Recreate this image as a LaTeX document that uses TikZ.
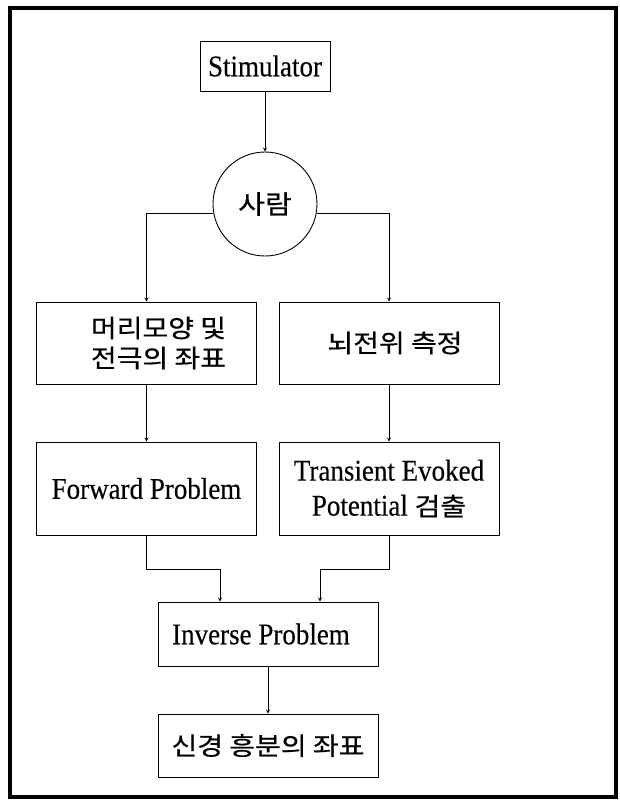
\documentclass[tikz,border=0pt]{standalone}
\usepackage{fontspec}
\setmainfont[FakeStretch=0.9,FakeBold=0.3]{Liberation Serif}
\newfontfamily\kor[FakeStretch=1.12,FakeBold=0.5]{Noto Sans CJK KR}
\usetikzlibrary{positioning,arrows,calc}

\begin{document}
\begin{tikzpicture}[x=1pt,y=-1pt,
   box/.style={draw,line width=0.9pt,minimum width=220pt,inner sep=0pt,align=center,
      font=\fontsize{30}{35}\selectfont},
   kbox/.style={box,font=\kor\fontsize{25}{30}\selectfont},
   >=stealth]
   \useasboundingbox (0,0) rectangle (620,807);
   \draw[line width=4pt] (10,8) rectangle (616,797);
   \node[box,minimum width=130pt,minimum height=50pt] (stim) at (265,66) {Stimulator};
   \node[draw,circle,line width=0.9pt,minimum size=104pt,inner sep=0pt,
      font=\kor\fontsize{26}{30}\selectfont] (person) at (265,204) {사람};
   \node[kbox,minimum height=82pt] (shape) at (146.5,343) {\hspace{24pt}머리모양 및\\\hspace{24pt}전극의 좌표};
   \node[kbox,minimum height=82pt] (meas) at (389,343) {\hspace{12pt}뇌전위 측정};
   \node[box,minimum height=93pt] (fwd) at (146.5,488.5) {Forward Problem};
   \node[box,minimum height=93pt] (tep) at (389,488.5) {Transient Evoked\\Potential {\kor\fontsize{25}{30}\selectfont 검출}};
   \node[box,minimum height=64pt] (inv) at (268,634) {Inverse Problem\hspace{14pt}};
   \node[kbox,minimum height=63pt] (res) at (268,745.5) {신경 흥분의 좌표};
   \coordinate (jl) at (220,569);
   \coordinate (jr) at (320,569);
   % connectors
   \path[->,line width=0.8pt]
   (stim) edge (person)
   (shape) edge (fwd)
   (meas) edge (tep)
   (inv) edge (res);
   \draw[->,line width=0.8pt] (person.190) -| (shape);
   \draw[->,line width=0.8pt] (person.350) -| (meas);
   \draw[->,line width=0.8pt] (fwd) |- (jl) -- (jl |- inv.north);
   \draw[->,line width=0.8pt] (tep) |- (jr) -- (jr |- inv.north);
\end{tikzpicture}
\end{document}
